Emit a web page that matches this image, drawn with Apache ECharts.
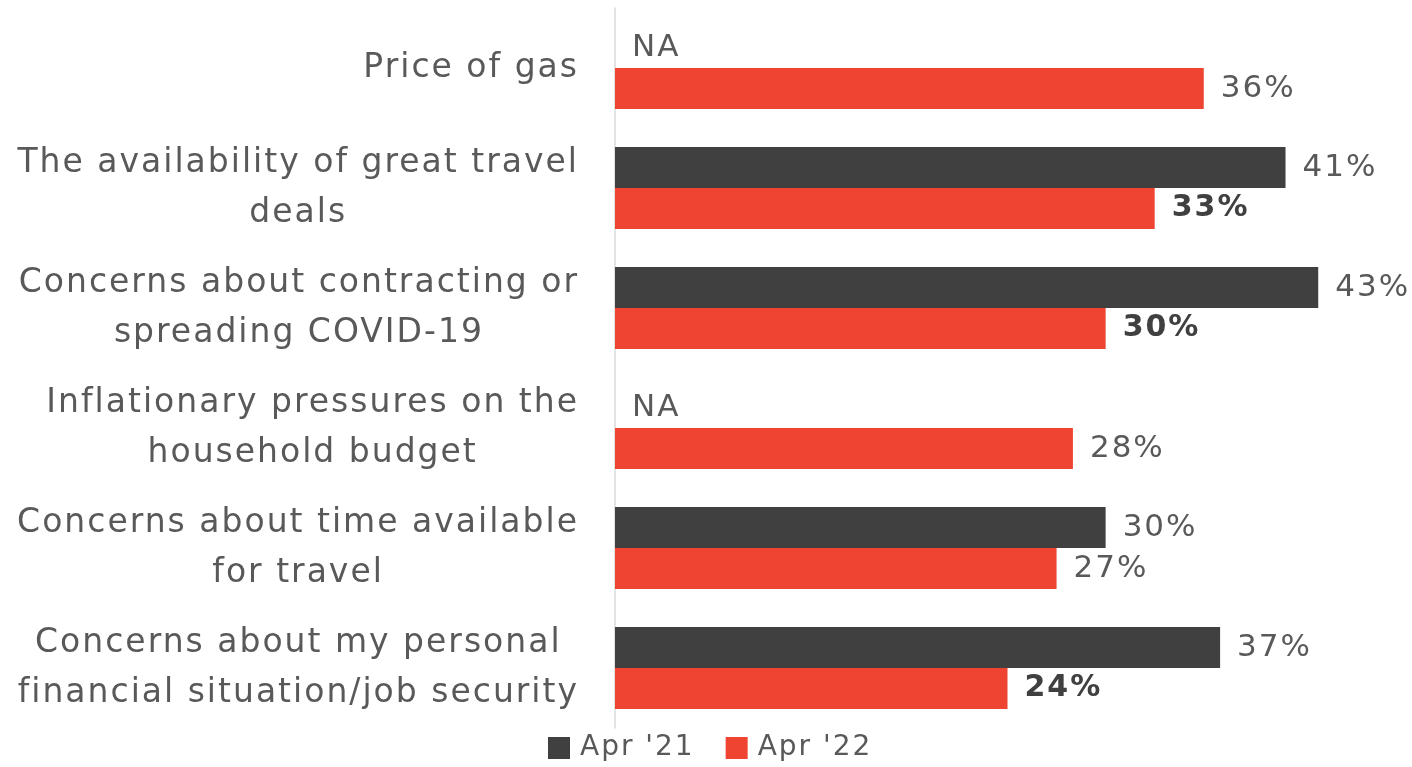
<!DOCTYPE html>
<html>
<head>
<meta charset="utf-8">
<script src="https://cdn.jsdelivr.net/npm/echarts@6/dist/echarts.min.js"></script>
<style>
  html, body { margin: 0; padding: 0; background: #fff; }
  #chart { width: 1412px; height: 767px; }
</style>
</head>
<body>
<div id="chart"></div>
<script>
const categories = [
  'Price of gas',
  'The availability of great travel\ndeals',
  'Concerns about contracting or\nspreading COVID-19',
  'Inflationary pressures on the\nhousehold budget',
  'Concerns about time available\nfor travel',
  'Concerns about my personal\nfinancial situation/job security'
]
const apr21 = [null, 41, 43, null, 30, 37]
const apr22 = [36, 33, 30, 28, 27, 24]
// Apr '22 values printed in bold
const boldApr22 = [false, true, true, false, false, true]

const FONT = 'DejaVu Sans'
const textGray = '#595959'

// the original typeface is wide and loosely tracked: add a little letter spacing
// to canvas text (measure too, so ECharts lays the labels out with it)
const proto = CanvasRenderingContext2D.prototype
const origFill = proto.fillText
const origMeasure = proto.measureText
proto.fillText = function () { this.letterSpacing = '2px'; return origFill.apply(this, arguments) }
proto.measureText = function () { this.letterSpacing = '2px'; return origMeasure.apply(this, arguments) }

const chart = echarts.init(document.getElementById('chart'))

function labelFor(bold) {
  return {
    show: true,
    position: 'right',
    distance: 17,
    fontFamily: FONT,
    fontSize: bold ? 30 : 31,
    fontWeight: bold ? 'bold' : 'normal',
    color: bold ? '#404040' : textGray,
    formatter: p => p.value + '%'
  }
}

const option = {
  animation: false,
  color: ['#404040', '#ee4431'],
  grid: { left: 615, top: 8, height: 720, right: 12, containLabel: false },
  legend: {
    bottom: 4,
    left: 548,
    padding: 0,
    itemWidth: 22,
    itemHeight: 22,
    itemGap: 31,
    icon: 'rect',
    textStyle: { fontFamily: FONT, fontSize: 28, color: textGray, padding: [0, 0, 0, 5] },
    data: ["Apr '21", "Apr '22"]
  },
  xAxis: {
    type: 'value',
    min: 0,
    max: 48,
    show: false
  },
  yAxis: {
    type: 'category',
    inverse: true,
    data: categories,
    axisTick: { show: false },
    axisLine: { show: true, lineStyle: { color: '#d9d9d9', width: 1.5 } },
    axisLabel: {
      margin: 36,
      align: 'right',
      fontFamily: FONT,
      fontSize: 33,
      lineHeight: 50,
      color: textGray,
      formatter: v => v.split('\n').map(l => '{c|' + l + '}').join('\n'),
      rich: { c: { align: 'center', fontFamily: FONT, fontSize: 33, lineHeight: 50, color: textGray } }
    }
  },
  series: [
    {
      name: "Apr '21",
      type: 'bar',
      barWidth: 41,
      barGap: '0%',
      label: labelFor(false),
      data: apr21.map(v => v === null
        ? { value: 0, label: { formatter: 'NA' } }
        : v)
    },
    {
      name: "Apr '22",
      type: 'bar',
      barWidth: 41,
      barGap: '0%',
      data: apr22.map((v, i) => ({ value: v, label: labelFor(boldApr22[i]) }))
    }
  ]
}

chart.setOption(option)
</script>
</body>
</html>
